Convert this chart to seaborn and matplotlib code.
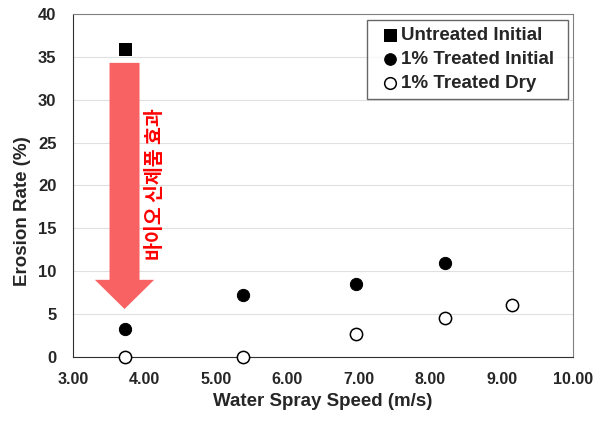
import matplotlib
matplotlib.use('Agg')
import matplotlib.pyplot as plt
import seaborn as sns
from matplotlib.path import Path
from matplotlib.ticker import MultipleLocator, FormatStrFormatter

sns.set_style('white')
plt.rcParams['font.family'] = ['Liberation Sans', 'Noto Sans CJK KR']
plt.rcParams['font.weight'] = 'bold'

# Data
speed_untreated = [3.72]
erosion_untreated = [35.9]

speed_treated_initial = [3.72, 5.38, 6.96, 8.20]
erosion_treated_initial = [3.3, 7.2, 8.5, 11.0]

speed_treated_dry = [3.72, 5.38, 6.96, 8.20, 9.15]
erosion_treated_dry = [0.0, 0.0, 2.7, 4.5, 6.1]

arrow_text = '바이오 신제품 효과'

fig, ax = plt.subplots(figsize=(6.04, 4.24), dpi=100)
fig.subplots_adjust(left=0.121, right=0.949, bottom=0.158, top=0.967)

# horizontal gridlines
ax.set_axisbelow(True)
ax.yaxis.grid(True, color='#E0E0E0', linewidth=0.8)

# red arrow showing the effect
ax.arrow(speed_untreated[0], erosion_untreated[0] - 1.6, 0,
         -(erosion_untreated[0] - 1.6 - (erosion_treated_initial[0] + 2.3)),
         width=0.42, head_width=0.83, head_length=3.4,
         length_includes_head=True, color='#F96262', ec='none', zorder=2)
ax.text(speed_untreated[0] + 0.44, 20.2, arrow_text, rotation=90,
        ha='center', va='center', color='#FF0000', fontsize=14,
        fontweight='bold', family=['Noto Sans CJK KR'])

sns.scatterplot(x=speed_untreated, y=erosion_untreated, marker='s', s=80,
                color='black', edgecolor='black', label='Untreated Initial', ax=ax, zorder=3)
sns.scatterplot(x=speed_treated_initial, y=erosion_treated_initial, marker='o', s=78,
                color='black', edgecolor='black', label='1% Treated Initial', ax=ax, zorder=3)
sns.scatterplot(x=speed_treated_dry, y=erosion_treated_dry, marker='o', s=78,
                facecolor='white', edgecolor='black', linewidth=1.1,
                label='1% Treated Dry', ax=ax, zorder=3, clip_on=False)

ax.set_xlim(3, 10)
ax.set_ylim(0, 40)
ax.xaxis.set_major_locator(MultipleLocator(1))
ax.xaxis.set_minor_locator(MultipleLocator(0.2))
ax.xaxis.set_major_formatter(FormatStrFormatter('%.2f'))
ax.yaxis.set_major_locator(MultipleLocator(5))
ax.yaxis.set_minor_locator(MultipleLocator(1))

ax.tick_params(axis='both', which='major', labelsize=11.5, direction='out',
               length=5, width=0.9, color='#404040')
ax.tick_params(axis='x', which='minor', direction='inout', length=5, width=0.8, color='#404040')
ax.tick_params(axis='y', which='minor', direction='out', length=3, width=0.8, color='#404040')
ax.tick_params(axis='x', which='major', pad=6)
ax.tick_params(axis='y', which='major', labelsize=12, pad=7)
for lab in ax.get_xticklabels() + ax.get_yticklabels():
    lab.set_fontweight('bold')

ax.set_xlabel('Water Spray Speed (m/s)', fontsize=13.5, fontweight='bold')
ax.set_ylabel('Erosion Rate (%)', fontsize=13.5, fontweight='bold')
ax.yaxis.set_label_coords(-0.084, 0.425)

for side in ['left', 'bottom']:
    ax.spines[side].set_color('#303030')
for side in ['top', 'right']:
    ax.spines[side].set_color('#808080')


# legend frame with extra padding left/right only
def wide_box(x0, y0, width, height, mutation_size, hpad=8):
    xa, xb = x0 - hpad, x0 + width + hpad
    ya, yb = y0, y0 + height
    return Path([(xa, ya), (xb, ya), (xb, yb), (xa, yb), (xa, ya)], closed=True)


leg = ax.legend(loc='upper right', bbox_to_anchor=(0.974, 0.9825), borderaxespad=0,
                fontsize=13.5, frameon=True, fancybox=False, edgecolor='#404040',
                handlelength=0.9, handletextpad=0.1, borderpad=0.35,
                labelspacing=0.38, markerscale=0.95)
leg.get_frame().set_linewidth(1.0)
leg.get_frame().set_boxstyle(wide_box)
for t in leg.get_texts():
    t.set_fontweight('bold')

plt.savefig('out.png', dpi=100)
